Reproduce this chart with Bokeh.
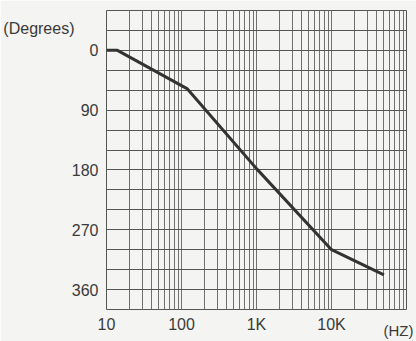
from bokeh.plotting import figure
from bokeh.models import Range1d, FixedTicker, LinearAxis, LogAxis
from bokeh.embed import file_html
from bokeh.resources import INLINE

# Data (phase response)
freq_hz = [10, 14, 120, 1000, 10000, 50000]
phase_deg = [0, 0, 58, 178, 300, 338]

y_ticks = [0, 90, 180, 270, 360]
x_ticks = [10, 100, 1000, 10000]
x_tick_labels = ["10", "100", "1K", "10K"]
y_title = "(Degrees)"
x_title = "(HZ)"

FONT = "Liberation Sans"
TXT = "#3a3a3a"
BG = "#f4f4f2"

p = figure(width=416, height=341, x_axis_type="log",
           x_range=Range1d(10, 100000), y_range=Range1d(390, -60),
           output_backend="svg", toolbar_location=None,
           min_border_left=106, min_border_right=10, min_border_top=10,
           min_border_bottom=32)
p.background_fill_color = BG
p.border_fill_color = BG
p.outline_line_color = "#555555"
p.outline_line_width = 1

# grids
xg = []
for e in range(1, 5):
    for m in range(1, 10):
        xg.append(m * 10 ** e)
xg.append(100000)
p.xgrid.ticker = FixedTicker(ticks=xg)
p.xgrid.grid_line_color = "#707070"
p.xgrid.grid_line_width = 1
p.ygrid.ticker = FixedTicker(ticks=list(range(-60, 391, 30)))
p.ygrid.grid_line_color = "#555555"
p.ygrid.grid_line_width = 1


def style(ax, size="16px"):
    ax.axis_line_color = None
    ax.major_tick_line_color = None
    ax.minor_tick_line_color = None
    ax.major_tick_out = 0
    ax.major_tick_in = 0
    ax.minor_tick_out = 0
    ax.minor_tick_in = 0
    ax.major_label_text_font = FONT
    ax.major_label_text_font_size = size
    ax.major_label_text_color = TXT


style(p.xaxis[0])
style(p.yaxis[0])
p.yaxis.ticker = FixedTicker(ticks=y_ticks)
p.yaxis.major_label_standoff = 8
p.xaxis.ticker = FixedTicker(ticks=x_ticks)
p.xaxis.major_label_overrides = {float(k): v for k, v in zip(x_ticks, x_tick_labels)}
p.xaxis.major_label_standoff = 6

# axis titles drawn as single-tick extra axes (kept outside the frame clip)
y_title_pos = -33
ax_y = LinearAxis(ticker=FixedTicker(ticks=[y_title_pos]),
                  major_label_overrides={float(y_title_pos): y_title},
                  major_label_standoff=-6)
style(ax_y)
p.add_layout(ax_y, "left")

x_title_pos = 78000
ax_x = LogAxis(ticker=FixedTicker(ticks=[x_title_pos]),
               major_label_overrides={float(x_title_pos): x_title},
               major_label_standoff=-14)
style(ax_x, "15px")
p.add_layout(ax_x, "below")

p.line(freq_hz, phase_deg, line_color="#333333", line_width=3)

open("out.html", "w").write(file_html(p, INLINE))
